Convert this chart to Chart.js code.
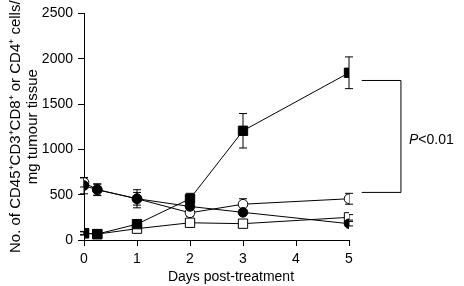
<!DOCTYPE html>
<html>
<head>
<meta charset="utf-8">
<script src="https://cdn.jsdelivr.net/npm/chart.js@4"></script>
<style>
html, body { margin: 0; padding: 0; background: #fff; }
#wrap { width: 464px; height: 286px; position: relative; }
</style>
</head>
<body>
<div id="wrap"><canvas id="chart"></canvas></div>
<script>
const days = [0, 0.25, 1, 2, 3, 5];

const filledSquare = [75, 65, 175, 455, 1205, 1845];
const filledSquareErr = [20, 15, 30, 60, 190, 175];

const openSquare = [75, 65, 125, 190, 180, 250];
const openSquareErr = [15, 10, 20, 30, 20, 30];

const filledCircle = [600, 555, 455, 370, 305, 180];
const filledCircleErr = [90, 65, 100, 40, 30, 25];

const openCircle = [635, 555, 455, 300, 395, 455];
const openCircleErr = [50, 60, 70, 40, 60, 60];

const yTicks = [0, 500, 1000, 1500, 2000, 2500];
const xTicks = [0, 1, 2, 3, 4, 5];

// bracket for the significance note (data units)
const bracketX = [5.24, 5.98];
const bracketY = [1760, 525];
const pLabel = ['P', '<0.01'];

const xTitle = 'Days post-treatment';
const yTitle = ['No. of CD45\u207ACD3\u207ACD8\u207A or CD4\u207A cells/', 'mg tumour tissue'];

const font = '"Liberation Sans", Arial, sans-serif';

function pts(vals) {
    return days.map((d, i) => ({ x: d, y: vals[i] }));
}

function series(vals, errs, style, filled) {
    return {
        data: pts(vals),
        errors: errs,
        borderColor: '#000',
        borderWidth: 1,
        pointStyle: style,
        pointRadius: style === 'rect' ? 6.6 : 4.8,
        pointBorderWidth: 1,
        pointBorderColor: '#000',
        pointBackgroundColor: filled ? '#000' : '#fff',
        showLine: true,
        tension: 0,
        fill: false
    };
}

const errorBars = {
    id: 'errorBars',
    beforeDatasetsDraw(chart) {
        const ctx = chart.ctx;
        const xs = chart.scales.x, ys = chart.scales.y;
        ctx.save();
        ctx.strokeStyle = '#000';
        ctx.lineWidth = 1;
        chart.data.datasets.forEach(ds => {
            ds.data.forEach((p, i) => {
                const e = ds.errors[i];
                const px = xs.getPixelForValue(p.x);
                const top = ys.getPixelForValue(p.y + e);
                const bot = ys.getPixelForValue(p.y - e);
                ctx.beginPath();
                ctx.moveTo(px, top); ctx.lineTo(px, bot);
                ctx.moveTo(px - 4, top); ctx.lineTo(px + 4, top);
                ctx.moveTo(px - 4, bot); ctx.lineTo(px + 4, bot);
                ctx.stroke();
            });
        });
        ctx.restore();
    }
};

const extras = {
    id: 'extras',
    afterDraw(chart) {
        const ctx = chart.ctx;
        const xs = chart.scales.x, ys = chart.scales.y;
        ctx.save();
        ctx.strokeStyle = '#000';
        ctx.lineWidth = 1;
        const x0 = xs.getPixelForValue(bracketX[0]);
        const x1 = xs.getPixelForValue(bracketX[1]);
        const y0 = ys.getPixelForValue(bracketY[0]);
        const y1 = ys.getPixelForValue(bracketY[1]);
        ctx.beginPath();
        ctx.moveTo(x0, y0); ctx.lineTo(x1, y0); ctx.lineTo(x1, y1); ctx.lineTo(x0, y1);
        ctx.stroke();

        ctx.fillStyle = '#000';
        ctx.textBaseline = 'middle';
        ctx.textAlign = 'left';
        const ty = (y0 + y1) / 2 + 4;
        let tx = x1 + 8;
        ctx.font = 'italic 14px ' + font;
        ctx.fillText(pLabel[0], tx, ty);
        tx += ctx.measureText(pLabel[0]).width;
        ctx.font = '14px ' + font;
        ctx.fillText(pLabel[1], tx, ty);

        ctx.textAlign = 'center';
        ctx.fillText(xTitle, 231, 277);
        ctx.restore();
    }
};

new Chart(document.getElementById('chart'), {
    type: 'line',
    data: {
        datasets: [
            series(filledCircle, filledCircleErr, 'circle', true),
            series(filledSquare, filledSquareErr, 'rect', true),
            series(openCircle, openCircleErr, 'circle', false),
            series(openSquare, openSquareErr, 'rect', false)
        ]
    },
    options: {
        responsive: true,
        maintainAspectRatio: false,
        animation: false,
        layout: { padding: { top: 10, right: 115, left: 0, bottom: 0 } },
        plugins: {
            legend: { display: false },
            tooltip: { enabled: false }
        },
        scales: {
            x: {
                type: 'linear',
                min: 0,
                max: 5,
                afterBuildTicks: s => { s.ticks = xTicks.map(v => ({ value: v })); },
                afterFit: s => { s.height = 46; },
                grid: { drawOnChartArea: false, drawTicks: true, tickLength: 6, color: '#000' },
                border: { display: true, color: '#000', width: 1 },
                ticks: { color: '#000', padding: 5, maxRotation: 0, font: { family: font, size: 14 } }
            },
            y: {
                min: 0,
                max: 2500,
                afterBuildTicks: s => { s.ticks = yTicks.map(v => ({ value: v })); },
                afterFit: s => { s.width = 84; },
                grid: { drawOnChartArea: false, drawTicks: true, tickLength: 6, color: '#000' },
                border: { display: true, color: '#000', width: 1 },
                ticks: {
                    color: '#000',
                    padding: 5,
                    font: { family: font, size: 14 },
                    callback: v => String(v)
                },
                title: {
                    display: true,
                    text: yTitle,
                    color: '#000',
                    padding: { top: 8, bottom: 4 },
                    font: { family: font, size: 15, lineHeight: 1.1 }
                }
            }
        }
    },
    plugins: [errorBars, extras]
});
</script>
</body>
</html>
